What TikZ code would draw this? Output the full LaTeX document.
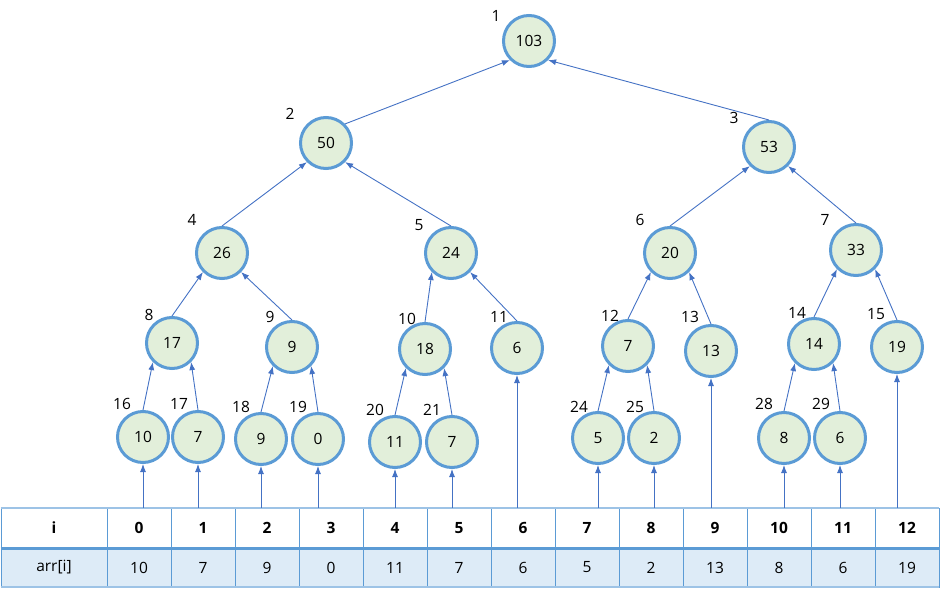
\documentclass[tikz,border=0pt]{standalone}
\usepackage{fontspec}
\setmainfont{Open Sans}
\usepackage{tikz}
\usepackage{xcolor}
\usetikzlibrary{arrows.meta}

\definecolor{ringblue}{HTML}{5B9BD5}
\definecolor{nodegreen}{HTML}{E2EFDA}
\definecolor{edgeblue}{HTML}{4472C4}
\definecolor{tblfill}{HTML}{DDEBF7}
\definecolor{tblline}{HTML}{9DC3E6}

\begin{document}
\begin{tikzpicture}[x=1pt, y=-1pt,
        every node/.style={font=\fontsize{15.5}{19}\selectfont},
        seg/.style={circle, draw=ringblue, line width=3pt, fill=nodegreen, minimum size=51pt, inner sep=0pt},
        idx/.style={inner sep=0pt},
        up/.style={edgeblue, line width=0.9pt, -{Latex[length=8pt, width=6pt]}},
        head/.style={draw=ringblue, line width=0.8pt, minimum height=40pt, minimum width=64pt, inner sep=0pt, font=\fontsize{15.5}{19}\selectfont\bfseries},
        cell/.style={draw=ringblue, line width=0.8pt, fill=tblfill, minimum height=39pt, minimum width=64pt, inner sep=0pt}]
        \useasboundingbox (0, 0) rectangle (940, 589);

        % tree
        \node[seg] (n1) at (529, 41) {103};
        \node[seg] (n2) at (326, 143) {50};
        \node[seg] (n3) at (769, 147) {53};
        \node[seg] (n4) at (222, 253) {26};
        \node[seg] (n5) at (451, 253) {24};
        \node[seg] (n6) at (670, 253) {20};
        \node[seg] (n7) at (856, 250) {33};
        \node[seg] (n8) at (172, 343) {17};
        \node[seg] (n9) at (292, 347) {9};
        \node[seg] (n10) at (425, 349) {18};
        \node[seg] (n11) at (517, 348) {6};
        \node[seg] (n12) at (628, 346) {7};
        \node[seg] (n13) at (711, 351) {13};
        \node[seg] (n14) at (814, 344) {14};
        \node[seg] (n15) at (897, 347) {19};
        \node[seg] (n16) at (143, 437) {10};
        \node[seg] (n17) at (198, 437) {7};
        \node[seg] (n18) at (261, 439) {9};
        \node[seg] (n19) at (318, 439) {0};
        \node[seg] (n20) at (395, 442) {11};
        \node[seg] (n21) at (452, 442) {7};
        \node[seg] (n24) at (598, 438) {5};
        \node[seg] (n25) at (654, 438) {2};
        \node[seg] (n28) at (784, 438) {8};
        \node[seg] (n29) at (840, 438) {6};

        % index labels
        \node[idx] (l1) at (496, 16) {1};
        \node[idx] (l2) at (290, 114) {2};
        \node[idx] (l3) at (734, 118) {3};
        \node[idx] (l4) at (192, 220) {4};
        \node[idx] (l5) at (419, 225) {5};
        \node[idx] (l6) at (640, 220) {6};
        \node[idx] (l7) at (825, 220) {7};
        \node[idx] (l8) at (149, 315) {8};
        \node[idx] (l9) at (270, 317) {9};
        \node[idx] (l10) at (407, 319) {10};
        \node[idx] (l11) at (499, 317) {11};
        \node[idx] (l12) at (610, 316) {12};
        \node[idx] (l13) at (690, 317) {13};
        \node[idx] (l14) at (797, 313) {14};
        \node[idx] (l15) at (876, 314) {15};
        \node[idx] (l16) at (122, 404) {16};
        \node[idx] (l17) at (179, 404) {17};
        \node[idx] (l18) at (241, 407) {18};
        \node[idx] (l19) at (298, 407) {19};
        \node[idx] (l20) at (375, 410) {20};
        \node[idx] (l21) at (432, 410) {21};
        \node[idx] (l24) at (579, 407) {24};
        \node[idx] (l25) at (635, 407) {25};
        \node[idx] (l28) at (764, 404) {28};
        \node[idx] (l29) at (821, 404) {29};

        \draw[up] (n2.north east) to (n1.south west);
        \draw[up] (n3.north) to (n1.south east);
        \draw[up] (n4.north) to (n2.south west);
        \draw[up] (n5.north) to (n2.south east);
        \draw[up] (n6.north) to (n3.south west);
        \draw[up] (n7.north) to (n3.south east);
        \draw[up] (n8.north) to (n4.south west);
        \draw[up] (n9.north) to (n4.south east);
        \draw[up] (n10.north) to (n5.south west);
        \draw[up] (n11.north) to (n5.south east);
        \draw[up] (n12.north) to (n6.south west);
        \draw[up] (n13.north) to (n6.south east);
        \draw[up] (n14.north) to (n7.south west);
        \draw[up] (n15.north) to (n7.south east);
        \draw[up] (n16.north) to (n8.south west);
        \draw[up] (n17.north) to (n8.south east);
        \draw[up] (n18.north) to (n9.south west);
        \draw[up] (n19.north) to (n9.south east);
        \draw[up] (n20.north) to (n10.south west);
        \draw[up] (n21.north) to (n10.south east);
        \draw[up] (n24.north) to (n12.south west);
        \draw[up] (n25.north) to (n12.south east);
        \draw[up] (n28.north) to (n14.south west);
        \draw[up] (n29.north) to (n14.south east);

        % table
        \node[head, minimum width=106pt] (h) at (54, 528) {i};
        \node[head] (h0) at (139, 528) {0};
        \node[head] (h1) at (203, 528) {1};
        \node[head] (h2) at (267, 528) {2};
        \node[head] (h3) at (331, 528) {3};
        \node[head] (h4) at (395, 528) {4};
        \node[head] (h5) at (459, 528) {5};
        \node[head] (h6) at (523, 528) {6};
        \node[head] (h7) at (587, 528) {7};
        \node[head] (h8) at (651, 528) {8};
        \node[head] (h9) at (715, 528) {9};
        \node[head] (h10) at (779, 528) {10};
        \node[head] (h11) at (843, 528) {11};
        \node[head] (h12) at (907, 528) {12};

        \node[cell, minimum width=106pt] (v) at (54, 567.5) {arr[i]};
        \node[cell] (v0) at (139, 567.5) {10};
        \node[cell] (v1) at (203, 567.5) {7};
        \node[cell] (v2) at (267, 567.5) {9};
        \node[cell] (v3) at (331, 567.5) {0};
        \node[cell] (v4) at (395, 567.5) {11};
        \node[cell] (v5) at (459, 567.5) {7};
        \node[cell] (v6) at (523, 567.5) {6};
        \node[cell] (v7) at (587, 567.5) {5};
        \node[cell] (v8) at (651, 567.5) {2};
        \node[cell] (v9) at (715, 567.5) {13};
        \node[cell] (v10) at (779, 567.5) {8};
        \node[cell] (v11) at (843, 567.5) {6};
        \node[cell] (v12) at (907, 567.5) {19};

        \draw[tblline, line width=2pt] (h.north west) -- (h12.north east);
        \draw[tblline, line width=2pt] (v.south west) -- (v12.south east);
        \draw[ringblue, line width=2.5pt] (h.south west) -- (h12.south east);

        % leaves fed from the array
        \draw[up] (n16 |- h0.north) to (n16.south);
        \draw[up] (n17 |- h1.north) to (n17.south);
        \draw[up] (n18 |- h2.north) to (n18.south);
        \draw[up] (n19 |- h3.north) to (n19.south);
        \draw[up] (n20 |- h4.north) to (n20.south);
        \draw[up] (n21 |- h5.north) to (n21.south);
        \draw[up] (n11 |- h6.north) to (n11.south);
        \draw[up] (n24 |- h7.north) to (n24.south);
        \draw[up] (n25 |- h8.north) to (n25.south);
        \draw[up] (n13 |- h9.north) to (n13.south);
        \draw[up] (n28 |- h10.north) to (n28.south);
        \draw[up] (n29 |- h11.north) to (n29.south);
        \draw[up] (n15 |- h12.north) to (n15.south);
\end{tikzpicture}
\end{document}
